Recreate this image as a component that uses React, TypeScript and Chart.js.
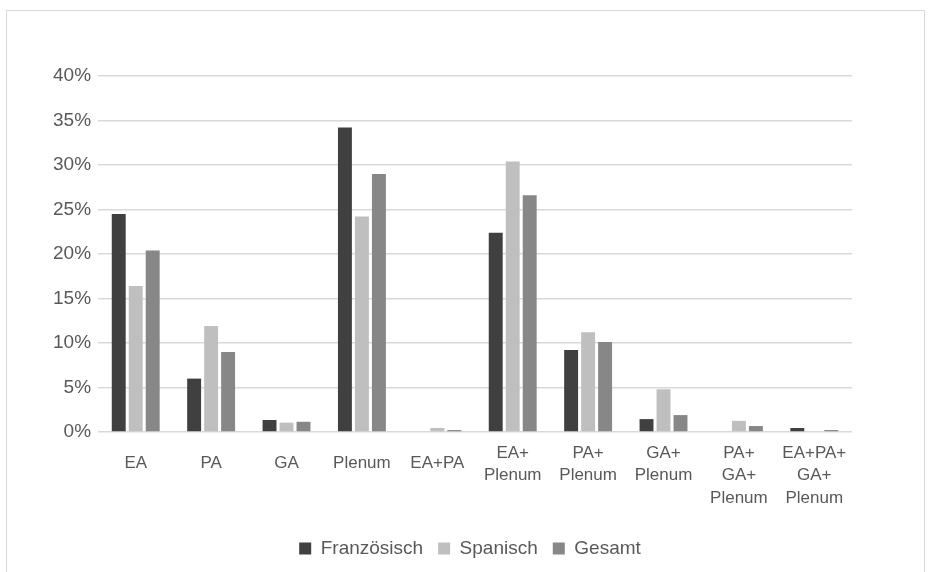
import React, { useEffect, useRef } from "react";
import { Chart, registerables } from "chart.js";

Chart.register(...registerables);

const categories: (string | string[])[] = [
  "EA",
  "PA",
  "GA",
  "Plenum",
  "EA+PA",
  ["EA+", "Plenum"],
  ["PA+", "Plenum"],
  ["GA+", "Plenum"],
  ["PA+", "GA+", "Plenum"],
  ["EA+PA+", "GA+", "Plenum"],
];

const franzoesisch = [24.5, 6.0, 1.35, 34.2, 0, 22.4, 9.2, 1.45, 0, 0.45];
const spanisch = [16.4, 11.9, 1.05, 24.2, 0.45, 30.4, 11.2, 4.8, 1.25, 0];
const gesamt = [20.4, 9.0, 1.15, 29.0, 0.22, 26.6, 10.1, 1.9, 0.67, 0.22];

const seriesNames = ["Französisch", "Spanisch", "Gesamt"];
const yTickMax = 40;
const yTickStep = 5;

const FONT = "'Liberation Sans', Arial, sans-serif";
const TEXT = "#595959";
const GRID = "#d9d9d9";

const legendShift = {
  id: "legendShift",
  afterLayout(chart: any) {
    const lg = chart.legend;
    if (lg) {
      lg.left += 21;
      lg.right += 21;
    }
  },
};

export default function App() {
  const canvasRef = useRef<HTMLCanvasElement | null>(null);

  useEffect(() => {
    const canvas = canvasRef.current;
    if (!canvas) return;
    const chart = new Chart(canvas, {
      type: "bar",
      data: {
        labels: categories,
        datasets: [
          { label: seriesNames[0], data: franzoesisch, backgroundColor: "#404040" },
          { label: seriesNames[1], data: spanisch, backgroundColor: "#bfbfbf" },
          { label: seriesNames[2], data: gesamt, backgroundColor: "#878787" },
        ],
      },
      options: {
        animation: false,
        responsive: false,
        maintainAspectRatio: false,
        datasets: {
          bar: { categoryPercentage: 0.676, barPercentage: 0.82 },
        },
        layout: { padding: { left: 39, right: 72, top: 65, bottom: 0 } },
        plugins: {
          tooltip: { enabled: false },
          legend: {
            position: "bottom",
            labels: {
              color: TEXT,
              boxWidth: 12,
              boxHeight: 12,
              padding: 15,
              font: { family: FONT, size: 19 },
            },
          },
        },
        scales: {
          x: {
            grid: { display: false, drawTicks: false },
            border: { display: false },
            ticks: {
              color: TEXT,
              autoSkip: false,
              maxRotation: 0,
              minRotation: 0,
              padding: 10,
              font: (ctx: any) => {
                const lbl = categories[ctx.index];
                const multi = Array.isArray(lbl);
                return { family: FONT, size: 17, lineHeight: multi ? "22.5px" : "42px" };
              },
            },
            afterFit: (scale: any) => {
              scale.height = 92;
            },
          },
          y: {
            min: 0,
            max: yTickMax,
            grid: { color: GRID, lineWidth: 1.5, drawTicks: false },
            border: { display: false },
            ticks: {
              stepSize: yTickStep,
              color: TEXT,
              padding: 7,
              font: { family: FONT, size: 19 },
              callback: (v: any) => v + "%",
            },
          },
        },
      },
      plugins: [legendShift],
    });
    return () => chart.destroy();
  }, []);

  return (
    <div
      style={{
        position: "fixed",
        left: 6,
        top: 10,
        width: 919,
        height: 620,
        border: "1.5px solid #d9d9d9",
        boxSizing: "border-box",
        background: "#fff",
      }}
    >
      <canvas
        ref={canvasRef}
        width={917}
        height={557}
        style={{ position: "absolute", left: 0, top: 0, width: 917, height: 557 }}
      />
    </div>
  );
}
